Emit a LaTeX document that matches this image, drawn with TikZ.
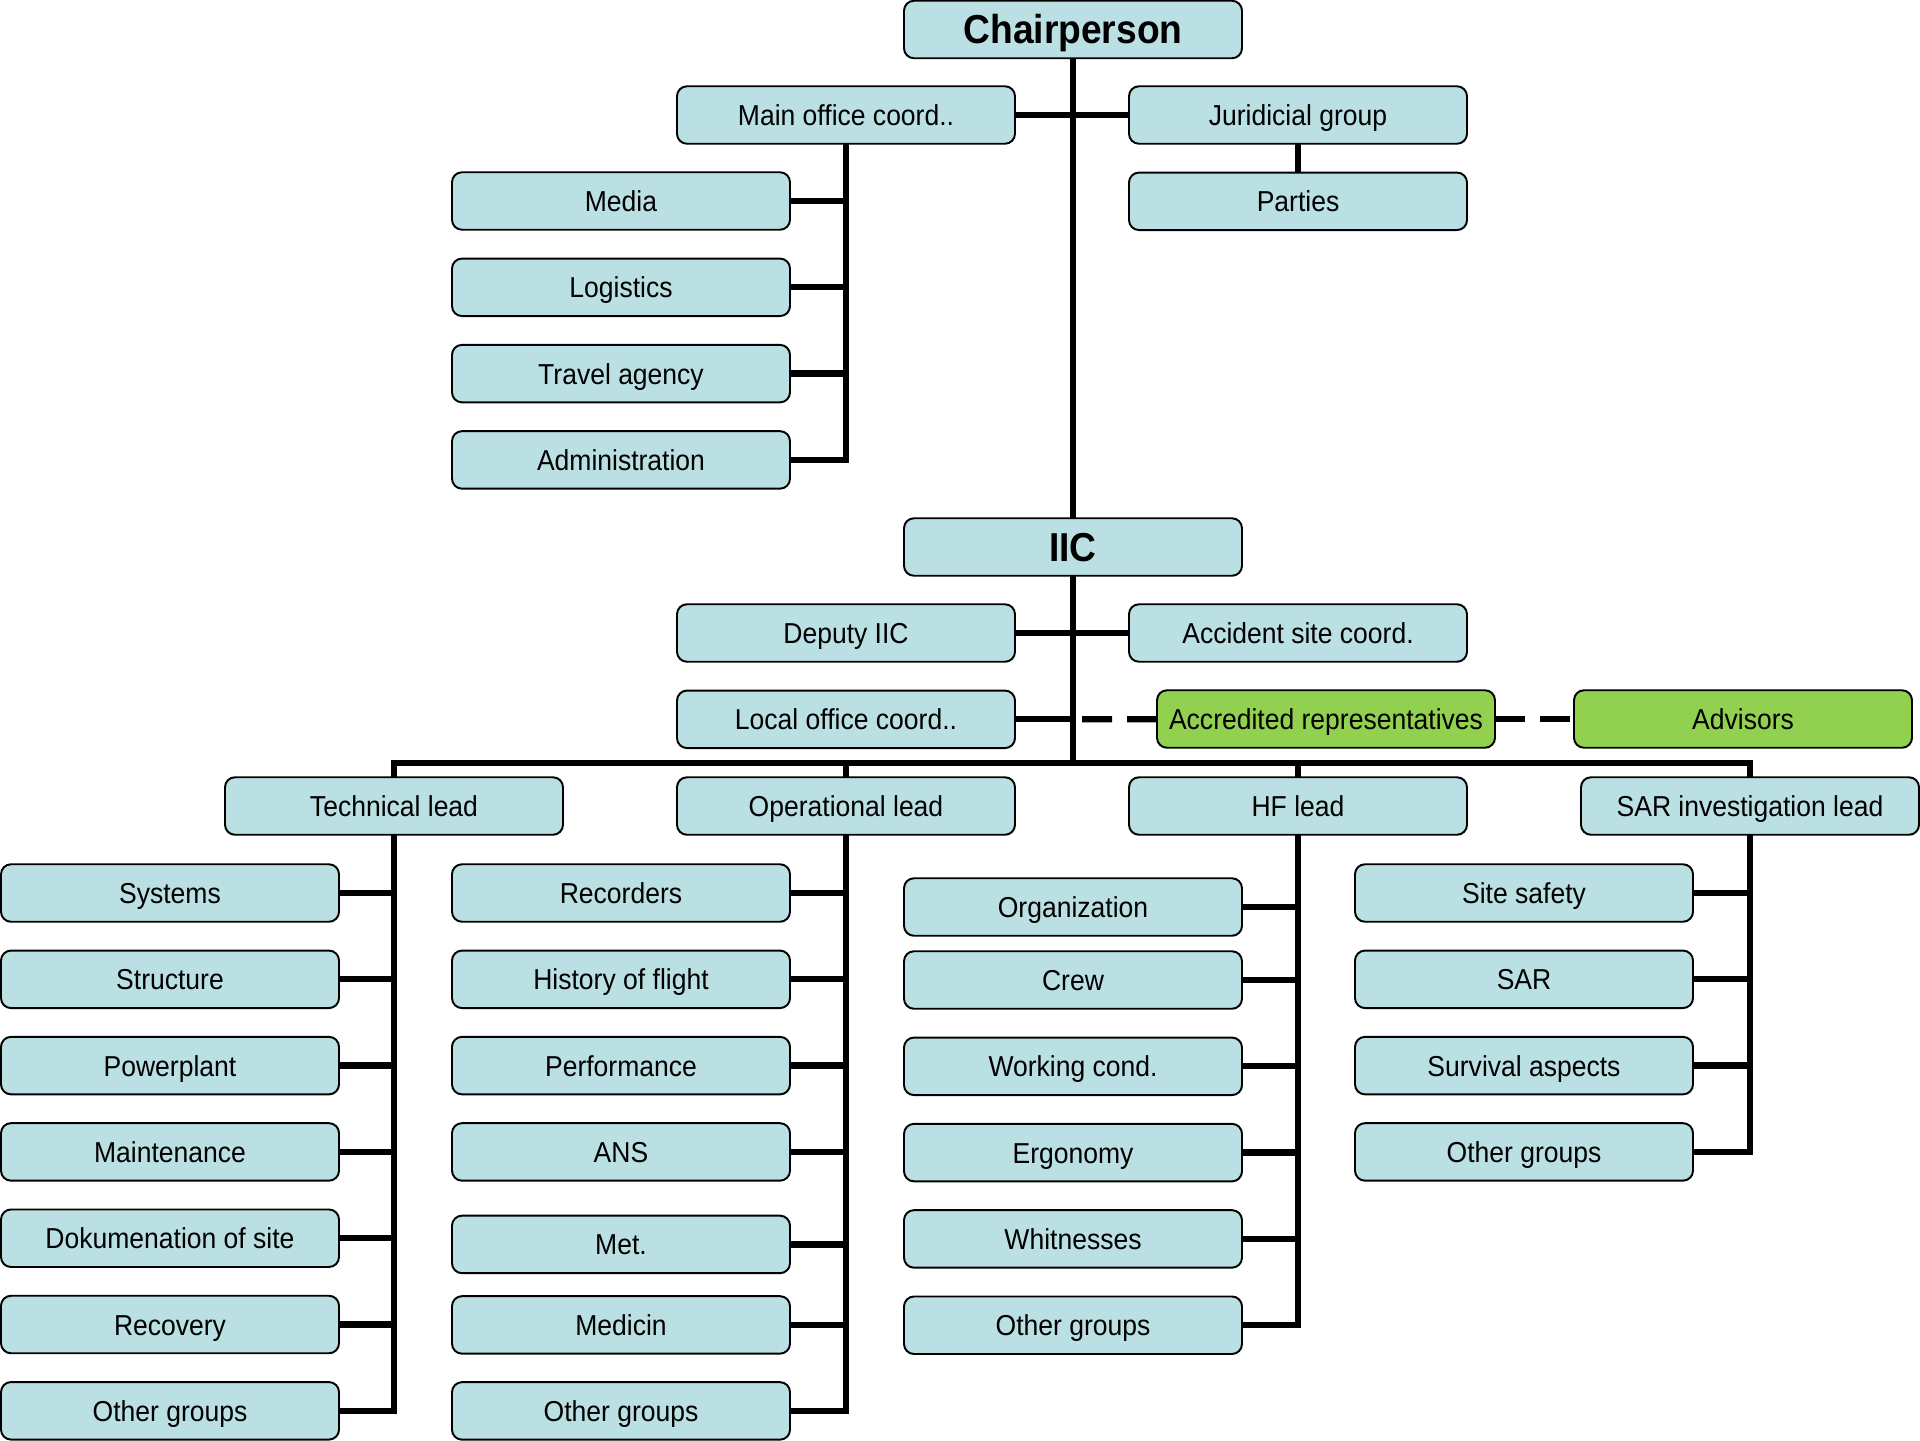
\documentclass[tikz,border=0pt]{standalone}
\usepackage{fontspec}
\setmainfont[FakeStretch=0.92]{Liberation Sans}
\usepackage{tikz}
\usetikzlibrary{positioning}
\definecolor{boxblue}{HTML}{BAE0E3}
\definecolor{boxgreen}{HTML}{92D050}
\tikzset{
  unit/.style={rectangle, rounded corners=1mm, draw, line width=0.55pt, fill=boxblue, minimum width=33.8mm, minimum height=5.75mm, inner sep=0pt, outer sep=0pt, text height=6.9pt, text depth=0.9pt, font=\fontsize{8.2}{9}\selectfont},
  head/.style={unit, text height=9.5pt, text depth=1.4pt, font=\fontsize{11.5}{12}\selectfont\bfseries},
  rep/.style={unit, fill=boxgreen},
  link/.style={line width=1.8pt},
  replink/.style={line width=1.8pt, dash pattern=on 3mm off 1.5mm},
}
\begin{document}
\begin{tikzpicture}[x=1mm, y=1mm, node distance=2.88mm]
    \useasboundingbox (0,0) rectangle (192,-144);

    % Nodes
    \node[head] (chair) at (107.3,-2.95) {Chairperson};
    \node[unit] (mainoff) at (84.6,-11.5) {Main office coord..};
    \node[unit] (jurid) at (129.8,-11.5) {Juridicial group};
    \node[unit, below=of jurid] (parties) {Parties};
    \node[unit] (media) at (62.1,-20.1) {Media};
    \node[unit, below=of media] (logistics) {Logistics};
    \node[unit, below=of logistics] (travel) {Travel agency};
    \node[unit, below=of travel] (admin) {Administration};

    \node[head] (iic) at (107.3,-54.7) {IIC};
    \node[unit] (deputy) at (84.6,-63.3) {Deputy IIC};
    \node[unit] (accsite) at (129.8,-63.3) {Accident site coord.};
    \node[unit, below=of deputy] (localoff) {Local office coord..};
    \node[rep] (accred) at (132.6,-71.9) {Accredited representatives};
    \node[rep] (advisors) at (174.3,-71.9) {Advisors};
    \coordinate (bus) at (107.3,-76.3);

    % Leads
    \node[unit] (techlead) at (39.4,-80.6) {Technical lead};
    \node[unit] (oplead) at (84.6,-80.6) {Operational lead};
    \node[unit] (hflead) at (129.8,-80.6) {HF lead};
    \node[unit] (sarlead) at (175.0,-80.6) {SAR investigation lead};

    % Technical groups
    \node[unit] (systems) at (17.0,-89.3) {Systems};
    \node[unit, below=of systems] (structure) {Structure};
    \node[unit, below=of structure] (powerplant) {Powerplant};
    \node[unit, below=of powerplant] (maint) {Maintenance};
    \node[unit, below=of maint] (docsite) {Dokumenation of site};
    \node[unit, below=of docsite] (recovery) {Recovery};
    \node[unit, below=of recovery] (techother) {Other groups};

    % Operational groups
    \node[unit] (recorders) at (62.1,-89.3) {Recorders};
    \node[unit, below=of recorders] (history) {History of flight};
    \node[unit, below=of history] (perf) {Performance};
    \node[unit, below=of perf] (ans) {ANS};
    \node[unit, below=3.5mm of ans] (met) {Met.};
    \node[unit, below=2.3mm of met] (medicin) {Medicin};
    \node[unit, below=2.85mm of medicin] (opother) {Other groups};

    % HF groups
    \node[unit] (org) at (107.3,-90.7) {Organization};
    \node[unit, below=1.55mm of org] (crew) {Crew};
    \node[unit, below=of crew] (workcond) {Working cond.};
    \node[unit, below=of workcond] (ergo) {Ergonomy};
    \node[unit, below=of ergo] (witness) {Whitnesses};
    \node[unit, below=of witness] (hfother) {Other groups};

    % SAR groups
    \node[unit] (sitesafety) at (152.4,-89.3) {Site safety};
    \node[unit, below=of sitesafety] (sar) {SAR};
    \node[unit, below=of sar] (survival) {Survival aspects};
    \node[unit, below=of survival] (sarother) {Other groups};

    % Lines
    \draw[link] (chair) -- (iic);
    \draw[link] (mainoff) -- (jurid);
    \draw[link] (jurid) -- (parties);
    \draw[link] (mainoff) |- (admin);
    \draw[link] (media) -- (media -| mainoff);
    \draw[link] (logistics) -- (logistics -| mainoff);
    \draw[link] (travel) -- (travel -| mainoff);

    \draw[link] (iic) -- (bus);
    \draw[link] (deputy) -- (accsite);
    \draw[link] (localoff) -- (localoff -| iic);
    \draw[replink] (accred) -- (localoff -| iic);
    \draw[replink] (accred) -- (advisors);

    \draw[link] (techlead) |- (bus) -| (sarlead);
    \draw[link] (oplead) -- (oplead |- bus);
    \draw[link] (hflead) -- (hflead |- bus);

    \draw[link] (techlead) |- (techother);
    \draw[link] (systems) -- (systems -| techlead);
    \draw[link] (structure) -- (structure -| techlead);
    \draw[link] (powerplant) -- (powerplant -| techlead);
    \draw[link] (maint) -- (maint -| techlead);
    \draw[link] (docsite) -- (docsite -| techlead);
    \draw[link] (recovery) -- (recovery -| techlead);

    \draw[link] (oplead) |- (opother);
    \draw[link] (recorders) -- (recorders -| oplead);
    \draw[link] (history) -- (history -| oplead);
    \draw[link] (perf) -- (perf -| oplead);
    \draw[link] (ans) -- (ans -| oplead);
    \draw[link] (met) -- (met -| oplead);
    \draw[link] (medicin) -- (medicin -| oplead);

    \draw[link] (hflead) |- (hfother);
    \draw[link] (org) -- (org -| hflead);
    \draw[link] (crew) -- (crew -| hflead);
    \draw[link] (workcond) -- (workcond -| hflead);
    \draw[link] (ergo) -- (ergo -| hflead);
    \draw[link] (witness) -- (witness -| hflead);

    \draw[link] (sarlead) |- (sarother);
    \draw[link] (sitesafety) -- (sitesafety -| sarlead);
    \draw[link] (sar) -- (sar -| sarlead);
    \draw[link] (survival) -- (survival -| sarlead);
\end{tikzpicture}
\end{document}
